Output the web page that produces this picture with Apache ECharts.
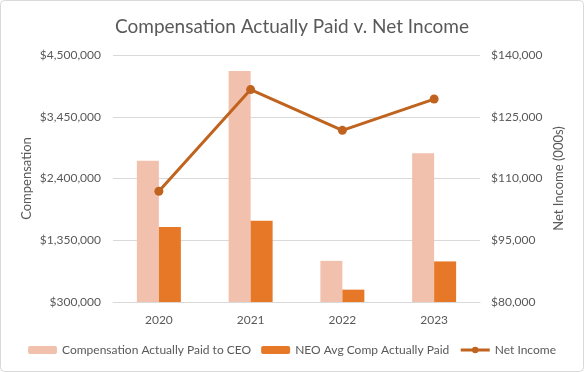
<!DOCTYPE html>
<html>
<head>
<meta charset="utf-8">
<script src="https://cdn.jsdelivr.net/npm/echarts@6/dist/echarts.min.js"></script>
<style>
html,body{margin:0;padding:0;background:#fff;}
#c{width:584px;height:372px;}
</style>
</head>
<body>
<div id="c"></div>
<script>
const categories = ['2020', '2021', '2022', '2023'];
const ceoComp = [2700000, 4230000, 1000000, 2830000];
const neoComp = [1575000, 1680000, 510000, 990000];
const netIncome = [106900, 131600, 121700, 129300];
const leftTicks = [300000, 1350000, 2400000, 3450000, 4500000];
const rightTicks = [80000, 95000, 110000, 125000, 140000];

const FONT = 'Lato';
const TXT = '#595959';
const fmt = v => '$' + v.toLocaleString('en-US');

const chart = echarts.init(document.getElementById('c'), null, {renderer: 'canvas'});
chart.setOption({
  backgroundColor: '#fff',
  animation: false,
  title: {
    text: 'Compensation Actually Paid v. Net Income',
    left: 'center',
    top: 12,
    textStyle: {fontFamily: FONT, fontSize: 19, fontWeight: 'normal', color: TXT}
  },
  legend: {
    bottom: 11,
    left: 'center',
    itemWidth: 29,
    itemHeight: 8,
    itemGap: 10,
    textStyle: {fontFamily: FONT, fontSize: 12, color: TXT},
    data: [
      'Compensation Actually Paid to CEO',
      'NEO Avg Comp Actually Paid',
      {name: 'Net Income', lineStyle: {width: 3}}
    ]
  },
  grid: {left: 113, right: 104, top: 55, bottom: 70},
  xAxis: {
    type: 'category',
    data: categories,
    axisLine: {show: true, lineStyle: {color: '#D9D9D9'}},
    axisTick: {show: false},
    axisLabel: {fontFamily: FONT, fontSize: 12, color: TXT, margin: 12}
  },
  yAxis: [
    {
      type: 'value',
      min: leftTicks[0],
      max: leftTicks[leftTicks.length - 1],
      interval: leftTicks[1] - leftTicks[0],
      name: 'Compensation',
      nameLocation: 'middle',
      nameGap: 80,
      nameMoveOverlap: false,
      nameTextStyle: {fontFamily: FONT, fontSize: 13, color: TXT},
      axisLine: {show: false},
      axisTick: {show: false},
      axisLabel: {fontFamily: FONT, fontSize: 12, color: TXT, margin: 12, formatter: fmt},
      splitLine: {lineStyle: {color: '#D9D9D9'}}
    },
    {
      type: 'value',
      min: rightTicks[0],
      max: rightTicks[rightTicks.length - 1],
      interval: rightTicks[1] - rightTicks[0],
      name: 'Net Income (000s)',
      nameLocation: 'middle',
      nameGap: 72,
      nameMoveOverlap: false,
      nameRotate: 90,
      nameTextStyle: {fontFamily: FONT, fontSize: 13, color: TXT},
      axisLine: {show: false},
      axisTick: {show: false},
      axisLabel: {fontFamily: FONT, fontSize: 12, color: TXT, margin: 11, formatter: fmt},
      splitLine: {show: false}
    }
  ],
  series: [
    {
      name: 'Compensation Actually Paid to CEO',
      type: 'bar',
      data: ceoComp,
      barWidth: 22,
      barGap: '0%',
      itemStyle: {color: '#F2C1AE'}
    },
    {
      name: 'NEO Avg Comp Actually Paid',
      type: 'bar',
      data: neoComp,
      barWidth: 22,
      barGap: '0%',
      itemStyle: {color: '#E67828'}
    },
    {
      name: 'Net Income',
      type: 'line',
      yAxisIndex: 1,
      data: netIncome,
      symbol: 'circle',
      symbolSize: 9,
      lineStyle: {color: '#C0631E', width: 3},
      itemStyle: {color: '#C0631E'}
    }
  ],
  graphic: [{
    type: 'rect',
    shape: {x: 0.5, y: 0.5, width: 583, height: 371, r: 4},
    style: {fill: 'none', stroke: '#D9D9D9', lineWidth: 1},
    silent: true
  }]
});
</script>
</body>
</html>
